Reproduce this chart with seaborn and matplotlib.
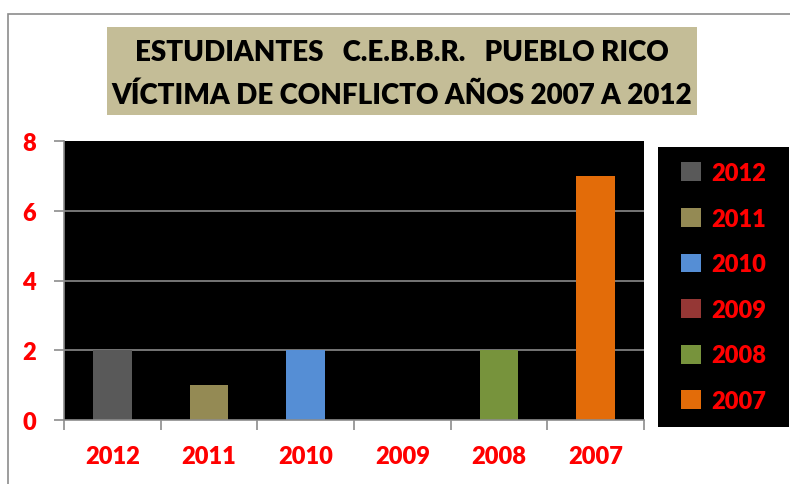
import matplotlib
matplotlib.use("Agg")
import matplotlib.pyplot as plt
import matplotlib.patches as mpatches
import seaborn as sns
import pandas as pd

years = ["2012", "2011", "2010", "2009", "2008", "2007"]
values = [2, 1, 2, 0, 2, 7]
colors = ["#595959", "#948A54", "#558ED5", "#953735", "#77933C", "#E36C09"]
title_lines = ["ESTUDIANTES   C.E.B.B.R.   PUEBLO RICO",
               "VÍCTIMA DE CONFLICTO AÑOS 2007 A 2012"]
yticks = [0, 2, 4, 6, 8]

sns.set_style("white")
FONT = ["Lato", "DejaVu Sans"]
plt.rcParams["font.family"] = FONT

W, H = 790, 485
fig = plt.figure(figsize=(W / 100, H / 100), dpi=100)

# outer frame
fig.patches.append(mpatches.Rectangle((8 / W, -0.1), 1.2, 1 - 15 / H + 0.1,
                                      transform=fig.transFigure, fill=False,
                                      edgecolor="#8c8c8c", linewidth=1.2))
# title box
bx0, bx1, by0, by1 = 107, 697, 28, 116
fig.patches.append(mpatches.Rectangle((bx0 / W, 1 - by1 / H), (bx1 - bx0) / W, (by1 - by0) / H,
                                      transform=fig.transFigure, facecolor="#C4BD97",
                                      edgecolor="none"))
for i, yy in enumerate([53, 96]):
    fig.text((bx0 + bx1) / 2 / W, 1 - yy / H, title_lines[i], ha="center", va="center",
             fontsize=20, fontweight="heavy", color="black")

ax = fig.add_axes([64 / W, 1 - 421 / H, (644 - 64) / W, (421 - 142) / H])
df = pd.DataFrame({"year": years, "value": values})
sns.barplot(data=df, x="year", y="value", hue="year", palette=colors, order=years,
            hue_order=years, dodge=False, width=0.4, saturation=1, ax=ax, legend=True,
            linewidth=0, edgecolor="none")
ax.set_facecolor("black")
ax.set_ylim(0, 8)
ax.set_xlim(-0.5, len(years) - 0.5)
ax.set_yticks(yticks)
ax.set_yticklabels([str(t) for t in yticks], fontweight="heavy")
ax.set_xticks(range(len(years)))
ax.set_xticklabels(years, fontweight="heavy")
ax.set_xlabel("")
ax.set_ylabel("")
for y in yticks[1:-1]:
    ax.axhline(y, color="#7f7f7f", linewidth=1.3, zorder=0.5)
for b in ax.patches:
    b.set_zorder(2)

for side in ["top", "right"]:
    ax.spines[side].set_visible(False)
for side in ["left", "bottom"]:
    ax.spines[side].set_color("#8c8c8c")
    ax.spines[side].set_linewidth(1.2)

ax.tick_params(axis="y", which="major", length=7, color="#8c8c8c", width=1.2,
               labelcolor="red", labelsize=17, pad=13, left=True)
ax.tick_params(axis="x", which="major", length=0, labelcolor="red", labelsize=17, pad=18)
ax.set_xticks([i - 0.5 for i in range(len(years) + 1)], minor=True)
ax.tick_params(axis="x", which="minor", length=7, color="#8c8c8c", width=1.2, bottom=True)

# legend
handles, labels = ax.get_legend_handles_labels()
ax.get_legend().remove()
for h in handles:
    h.set_edgecolor("none")
    h.set_linewidth(0)
lx0, lx1, ly0, ly1 = 658, 789, 148, 428
fig.patches.append(mpatches.Rectangle((lx0 / W, 1 - ly1 / H), (lx1 - lx0) / W, (ly1 - ly0) / H,
                                      transform=fig.transFigure, facecolor="black",
                                      edgecolor="none", zorder=3))
leg = fig.legend(handles, labels, loc="center",
                 bbox_to_anchor=((lx0 + lx1) / 2 / W, 1 - (ly0 + ly1) / 2 / H),
                 frameon=False, handlelength=0.85, handleheight=0.85, handletextpad=0.4,
                 labelspacing=1.0, borderpad=0.6, borderaxespad=0,
                 prop={"size": 17, "weight": "heavy"})
leg.set_zorder(5)
for t in leg.get_texts():
    t.set_color("red")

fig.savefig("out.png", dpi=100, facecolor="white")
